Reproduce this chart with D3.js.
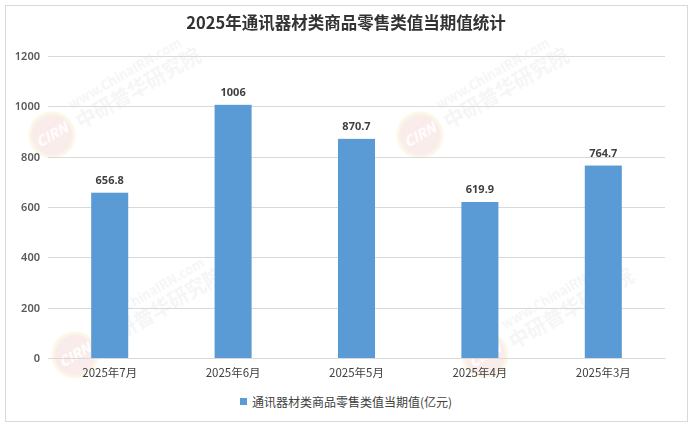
<!DOCTYPE html>
<html><head><meta charset="utf-8">
<script src="https://cdn.jsdelivr.net/npm/d3@7"></script>
<style>
html,body{margin:0;padding:0;background:#fff;}
svg{display:block;font-family:"Noto Sans CJK SC","Noto Sans",sans-serif;}
</style></head>
<body><svg id="c" width="694" height="428"></svg>
<script>
const categories = ["2025年7月","2025年6月","2025年5月","2025年4月","2025年3月"];
const values = [656.8, 1006, 870.7, 619.9, 764.7];
const valueLabels = ["656.8","1006","870.7","619.9","764.7"];
const yTicks = [0,200,400,600,800,1000,1200];
const title = "2025年通讯器材类商品零售类值当期值统计";
const seriesName = "通讯器材类商品零售类值当期值(亿元)";

const svg = d3.select("#c");
const W = 694, H = 428;
const m = {left:48, right:29, top:56, bottom:70};

svg.append("rect").attr("x",5.5).attr("y",5.5).attr("width",682).attr("height",416)
  .attr("fill","#fff").attr("stroke","#d9d9d9").attr("stroke-width",1);

// watermarks
const wm = svg.append("g").attr("opacity",0.4);
[[52,135],[420,135],[75,355],[485,355]].forEach(([cx,cy])=>{
  const g = wm.append("g").attr("transform",`translate(${cx},${cy}) rotate(-30)`);
  g.append("circle").attr("r",22).attr("fill","#f6d0d0");
  g.append("circle").attr("r",22).attr("fill","none").attr("stroke","#f5ecc0").attr("stroke-width",3);
  g.append("text").attr("x",0).attr("y",5).attr("text-anchor","middle").attr("font-size",14)
    .attr("font-style","italic").attr("font-weight","bold").attr("fill","#fff").text("CIRN");
  g.append("text").attr("x",30).attr("y",-12).attr("font-size",13).attr("font-weight","bold")
    .attr("fill","#e6e6e6").text("www.ChinaIRN.com");
  g.append("text").attr("x",28).attr("y",10).attr("font-size",20).attr("font-weight","bold")
    .attr("fill","#e6e6e6").text("中研普华研究院");
});

const x = d3.scaleBand().domain(categories).range([m.left, W-m.right]).paddingInner(0.7).paddingOuter(0.35);
const y = d3.scaleLinear().domain([0,1200]).range([358, m.top]);

// gridlines
svg.append("g").selectAll("line").data(yTicks).join("line")
  .attr("x1",m.left).attr("x2",W-m.right)
  .attr("y1",d=>Math.round(y(d))+0.5).attr("y2",d=>Math.round(y(d))+0.5)
  .attr("stroke","#d9d9d9").attr("stroke-width",1);

// y labels
const yAxis = d3.axisLeft(y).tickValues(yTicks).tickFormat(d3.format("d")).tickSize(0).tickPadding(8);
const ya = svg.append("g").attr("transform",`translate(${m.left},0)`).call(yAxis);
ya.select(".domain").remove();
ya.selectAll("text").attr("font-size",11).attr("fill","#595959").attr("font-family","'Noto Sans',sans-serif").attr("font-weight","600");

// bars
svg.append("g").selectAll("rect").data(values).join("rect")
  .attr("x",(d,i)=>x(categories[i])).attr("width",x.bandwidth())
  .attr("y",d=>y(d)).attr("height",d=>y(0)-y(d)).attr("fill","#5b9bd5");

// value labels
svg.append("g").selectAll("text").data(values).join("text")
  .attr("x",(d,i)=>x(categories[i])+x.bandwidth()/2).attr("y",d=>y(d)-9)
  .attr("text-anchor","middle").attr("font-size",11).attr("font-weight","bold")
  .attr("font-family","'Noto Sans',sans-serif").attr("fill","#404040")
  .text((d,i)=>valueLabels[i]);

// x axis
const xAxis = d3.axisBottom(x).tickSize(0).tickPadding(11);
const xa = svg.append("g").attr("transform",`translate(0,${y(0)})`).call(xAxis);
xa.select(".domain").attr("stroke","#d9d9d9");
xa.selectAll("text").attr("font-size",11.5).attr("fill","#404040")
  .attr("font-family","'Noto Sans CJK SC',sans-serif");

// title
svg.append("text").attr("x",W/2-1).attr("y",29).attr("text-anchor","middle")
  .attr("font-size",16.5).attr("font-weight","bold").attr("fill","#333").text(title);

// legend
const lg = svg.append("g").attr("transform","translate(240,407)");
lg.append("rect").attr("x",0).attr("y",-9).attr("width",7).attr("height",7).attr("fill","#5b9bd5");
lg.append("text").attr("x",12).attr("y",0).attr("font-size",12).attr("fill","#404040").text(seriesName);
</script></body></html>
